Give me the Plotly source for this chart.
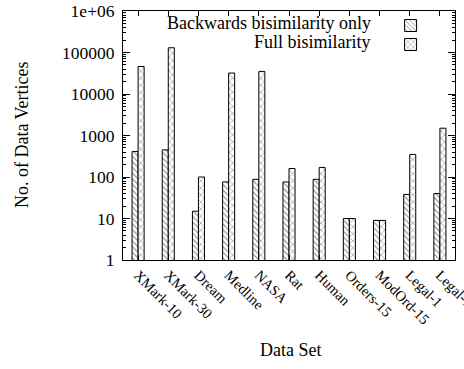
import plotly.graph_objects as go

categories = ["XMark-10", "XMark-30", "Dream", "Medline", "NASA", "Rat", "Human",
              "Orders-15", "ModOrd-15", "Legal-1", "Legal-10"]
backwards_only = [410, 450, 15, 76, 88, 76, 88, 10, 9, 38, 40]
full_bisim = [46000, 130000, 100, 32000, 35000, 160, 170, 10, 9, 350, 1500]
series_names = ["Backwards bisimilarity only", "Full bisimilarity"]
y_tick_vals = [1, 10, 100, 1000, 10000, 100000, 1000000]
y_tick_text = ["1", "10", "100", "1000", "10000", "100000", "1e+06"]
minor_vals = [m * 10 ** e for e in range(6) for m in range(2, 10)]

FONT = "Liberation Serif"

fig = go.Figure()
fig.add_trace(go.Bar(
    x=categories, y=backwards_only, name=" ", hovertext=series_names[0],
    marker=dict(color="white", line=dict(color="black", width=1),
                pattern=dict(shape="\\", fgcolor="black", bgcolor="white", size=4, solidity=0.25)),
))
fig.add_trace(go.Bar(
    x=categories, y=full_bisim, name=" ", hovertext=series_names[1],
    marker=dict(color="white", line=dict(color="black", width=1),
                pattern=dict(shape="x", fgcolor="black", bgcolor="white", size=5, solidity=0.2)),
))

W, H = 464, 369
L, R, T, B = 123, 9, 11, 109

fig.update_layout(
    width=W, height=H,
    margin=dict(l=L, r=R, t=T, b=B, autoexpand=False),
    paper_bgcolor="white", plot_bgcolor="white",
    font=dict(family=FONT, size=16, color="black"),
    barmode="group", bargap=0.6, bargroupgap=0,
    showlegend=True,
    legend=dict(x=0.806, y=1.0, xanchor="left", yanchor="top",
                bgcolor="rgba(0,0,0,0)", font=dict(family=FONT, size=10),
                tracegroupgap=0, itemwidth=30),
    xaxis=dict(
        type="category", automargin=False, showline=True, linecolor="black", linewidth=1,
        mirror="allticks", ticks="inside", ticklen=5, tickcolor="black", tickangle=45,
        tickfont=dict(family=FONT, size=14.5), showgrid=False,
    ),
    yaxis=dict(
        type="log", range=[0, 6], automargin=False, showline=True, linecolor="black",
        linewidth=1, mirror="allticks", ticks="inside", ticklen=7, tickcolor="black",
        tickvals=y_tick_vals, ticktext=y_tick_text, ticklabelstandoff=4,
        tickfont=dict(family=FONT, size=17.5),
        minor=dict(tickvals=minor_vals, ticks="inside", ticklen=3, tickcolor="black"),
        showgrid=False, zeroline=False,
    ),
    annotations=[
        dict(text=series_names[0], xref="paper", yref="paper", x=0.753, y=0.952,
             xanchor="right", yanchor="middle", showarrow=False,
             font=dict(family=FONT, size=18)),
        dict(text=series_names[1], xref="paper", yref="paper", x=0.753, y=0.876,
             xanchor="right", yanchor="middle", showarrow=False,
             font=dict(family=FONT, size=18)),
        dict(text="Data Set", xref="paper", yref="paper", x=0.506, y=-0.361,
             xanchor="center", yanchor="middle", showarrow=False,
             font=dict(family=FONT, size=18)),
        dict(text="No. of Data Vertices", xref="paper", yref="paper", x=-0.304, y=0.502,
             xanchor="center", yanchor="middle", textangle=-90, showarrow=False,
             font=dict(family=FONT, size=18)),
    ],
)

fig.write_html("out.html", config={"displayModeBar": False},
               post_script="document.body.style.margin='0';")
